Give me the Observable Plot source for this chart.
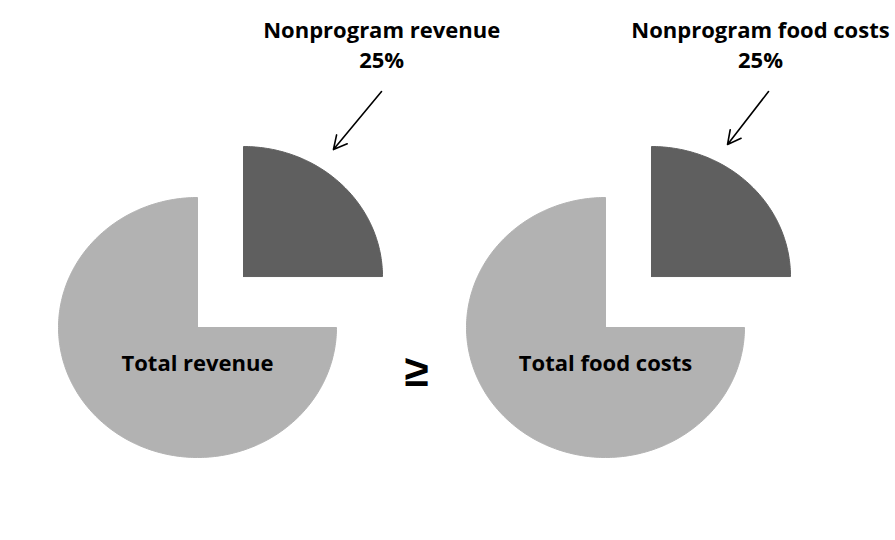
<!DOCTYPE html>
<html>
<head>
<meta charset="utf-8">
<script src="https://cdn.jsdelivr.net/npm/d3@7"></script>
<script src="https://cdn.jsdelivr.net/npm/@observablehq/plot@0.6"></script>
<style>
  html, body { margin: 0; padding: 0; background: #fff; overflow: hidden; }
  #chart svg { display: block; font-family: "Open Sans", Lato, sans-serif; }
</style>
</head>
<body>
<div id="chart"></div>
<script>
// ---- data ----
const pies = ["Total revenue", "Total food costs"];
const nonprogramLabels = ["Nonprogram revenue", "Nonprogram food costs"];
const nonprogramShare = [25, 25]; // percent
const comparison = "≥";

// ---- layout constants (pie units: 1 = radius) ----
const W = 895, H = 540;
const PX_X = 139, PX_Y = 130;          // px per radius unit (slightly tilted pie)
const CX0 = 197, CY0 = 327;            // px position of first pie center
const PIE_SPACING = 408 / PX_X;        // distance between pie centers
const EXPLODE_DX = 0.331, EXPLODE_DY = 0.392; // offset of exploded slice
const LABEL_DX = [1.325, 1.115], LABEL_Y = 2.185;
const ARROW = [
  {x1: 1.324, y1: 1.815, x2: 0.978, y2: 1.369},
  {x1: 1.173, y1: 1.815, x2: 0.878, y2: 1.408}
];
const DARK = "#5f5f5f", LIGHT = "#b2b2b2";

function slice(pieIndex, share0, share1, dx, dy) {
  const a0 = share0 / 100 * 2 * Math.PI, a1 = share1 / 100 * 2 * Math.PI;
  const ox = pieIndex * PIE_SPACING + dx;
  const oy = dy;
  const n = Math.max(2, Math.ceil((a1 - a0) / (Math.PI / 180)));
  const pts = [{x: ox, y: oy}];
  for (let i = 0; i <= n; ++i) {
    const a = a0 + (a1 - a0) * i / n;
    pts.push({x: ox + Math.sin(a), y: oy + Math.cos(a)});
  }
  pts.push({x: ox, y: oy});
  return pts;
}

const marks = [];
pies.forEach((name, i) => {
  const s = nonprogramShare[i];
  marks.push(Plot.line(slice(i, s, 100, 0, 0), {x: "x", y: "y", fill: LIGHT, stroke: LIGHT, strokeWidth: 1, curve: "linear"}));
  marks.push(Plot.line(slice(i, 0, s, EXPLODE_DX, EXPLODE_DY), {x: "x", y: "y", fill: DARK, stroke: DARK, strokeWidth: 1, curve: "linear"}));
});

const pieLabelData = pies.map((name, i) => ({name, x: i * PIE_SPACING, y: -0.277}));
marks.push(Plot.text(pieLabelData, {x: "x", y: "y", text: "name", fontSize: 22, fontWeight: "bold", fill: "#000"}));

const calloutData = pies.map((name, i) => ({
  text: `${nonprogramLabels[i]}\n${nonprogramShare[i]}%`,
  x: i * PIE_SPACING + LABEL_DX[i], y: LABEL_Y
}));
marks.push(Plot.text(calloutData, {x: "x", y: "y", text: "text", fontSize: 22, fontWeight: "bold", lineHeight: 1.36, fill: "#000"}));

const arrowData = pies.map((name, i) => ({
  x1: i * PIE_SPACING + ARROW[i].x1, y1: ARROW[i].y1,
  x2: i * PIE_SPACING + ARROW[i].x2, y2: ARROW[i].y2
}));
marks.push(Plot.arrow(arrowData, {x1: "x1", y1: "y1", x2: "x2", y2: "y2", stroke: "#000", strokeWidth: 1.6, headLength: 14, headAngle: 55}));

marks.push(Plot.text([{t: comparison, x: 219 / PX_X, y: -44 / PX_Y}], {x: "x", y: "y", text: "t", fontSize: 44, fontWeight: "bold", fontFamily: "Liberation Sans, DejaVu Sans, sans-serif", fill: "#000"}));

const chart = Plot.plot({
  width: W, height: H,
  margin: 0,
  x: {domain: [-CX0 / PX_X, (W - CX0) / PX_X], axis: null},
  y: {domain: [(CY0 - H) / PX_Y, CY0 / PX_Y], axis: null},
  style: {background: "#fff", overflow: "visible"},
  marks
});
document.getElementById("chart").appendChild(chart);
</script>
</body>
</html>
